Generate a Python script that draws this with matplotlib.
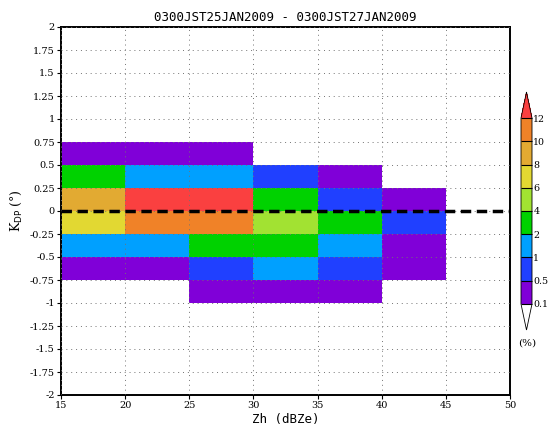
import matplotlib
matplotlib.use('Agg')
import matplotlib.pyplot as plt
from matplotlib.colors import ListedColormap, BoundaryNorm
import numpy as np

# bins
x_edges = [15, 20, 25, 30, 35, 40, 45, 50]
y_edges = np.arange(-2.0, 2.0001, 0.25)

# frequency (%) per cell, rows listed from top (0.5..0.75) down to (-1..-0.75)
nan = np.nan
row_top_edges = [0.75, 0.5, 0.25, 0.0, -0.25, -0.5, -0.75]
freq_rows = [
    [0.3, 0.3, 0.3, nan, nan, nan, nan],
    [3.0, 1.5, 1.5, 0.7, 0.3, nan, nan],
    [9.0, 13.0, 13.0, 3.0, 0.7, 0.3, nan],
    [7.0, 11.0, 11.0, 5.0, 3.0, 0.7, nan],
    [1.5, 1.5, 3.0, 3.0, 1.5, 0.3, nan],
    [0.3, 0.3, 0.7, 1.5, 0.7, 0.3, nan],
    [nan, nan, 0.3, 0.3, 0.3, nan, nan],
]

levels = [0.1, 0.5, 1, 2, 4, 6, 8, 10, 12]
level_colors = ['#8000d8', '#2040ff', '#00a0ff', '#00d200',
                '#a2e232', '#e2d832', '#e2aa32', '#f08228']
over_color = '#fa4040'
under_color = 'white'

title = '0300JST25JAN2009 - 0300JST27JAN2009'

# build grid
freq = np.full((len(y_edges) - 1, len(x_edges) - 1), np.nan)
for top, row in zip(row_top_edges, freq_rows):
    j = int(round((top - 0.25 - y_edges[0]) / 0.25))
    freq[j, :] = row

cmap = ListedColormap(level_colors)
cmap.set_over(over_color)
cmap.set_under(under_color)
cmap.set_bad((0, 0, 0, 0))
norm = BoundaryNorm(levels, cmap.N)

plt.rcParams['font.family'] = 'DejaVu Serif'

fig = plt.figure(figsize=(5.49, 4.28), dpi=100)
ax = fig.add_axes([61 / 549, 1 - 395 / 428, 449 / 549, 368 / 428])

mesh = ax.pcolormesh(x_edges, y_edges, np.ma.masked_invalid(freq),
                     cmap=cmap, norm=norm)

ax.axhline(0, color='black', lw=2.5, ls=(0, (3, 1.6)), zorder=4)

ax.set_xlim(15, 50)
ax.set_ylim(-2, 2)
ax.set_xticks(np.arange(15, 51, 5))
ax.set_yticks(np.arange(-2, 2.01, 0.25))
ax.set_yticklabels(['%g' % v for v in np.arange(-2, 2.01, 0.25)])
ax.grid(True, color='0.45', ls=(0, (1, 4)), lw=0.7)
ax.set_axisbelow(False)
ax.tick_params(labelsize=7, length=3, width=0.8, pad=1.5)
for sp in ax.spines.values():
    sp.set_linewidth(1.4)

ax.set_title(title, fontsize=9, pad=4, family='DejaVu Sans Mono')
ax.set_xlabel('Zh (dBZe)', fontsize=9, family='DejaVu Sans Mono', labelpad=2)
ax.set_ylabel(r'K$_{\rm DP}$ (°)', fontsize=9, labelpad=4)

cax = fig.add_axes([521 / 549, 1 - 330 / 428, 11 / 549, 238 / 428])
cb = fig.colorbar(mesh, cax=cax, extend='both', extendfrac=0.14,
                  drawedges=True, ticks=levels)
cb.ax.set_yticklabels(['%g' % v for v in levels])
cb.ax.tick_params(labelsize=6.8, length=0, pad=1)
cb.outline.set_linewidth(0.6)
cb.dividers.set_linewidth(0.8)
fig.text(527 / 549, 1 - 343 / 428, '(%)', fontsize=7.5, ha='center', va='center')

fig.savefig('out.png', dpi=100)
